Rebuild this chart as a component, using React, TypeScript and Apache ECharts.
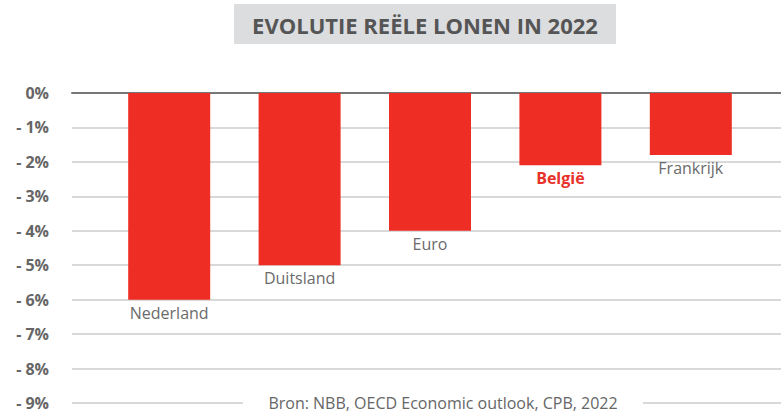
import React, { useEffect, useRef } from "react";
import * as echarts from "echarts";

const categories = ["Nederland", "Duitsland", "Euro", "België", "Frankrijk"];
const values = [-6.0, -5.0, -4.0, -2.1, -1.8];
const highlight = "België";
const yMin = -9;
const yMax = 0;
const titleText = "EVOLUTIE REËLE LONEN IN 2022";
const sourceText = "Bron: NBB, OECD Economic outlook, CPB, 2022";

const FONT = "'Open Sans', 'Noto Sans', sans-serif";

export default function App() {
  const ref = useRef<HTMLDivElement>(null);
  useEffect(() => {
    if (!ref.current) return;
    const chart = echarts.init(ref.current, null, { renderer: "svg" });
    const top = 93;
    const height = 310;
    chart.setOption({
      animation: false,
      backgroundColor: "#ffffff",
      grid: [
        { left: 72, right: 0, top, height },
        { left: 104, right: 25, top, height },
      ],
      xAxis: [
        {
          gridIndex: 0,
          type: "category",
          data: [""],
          position: "top",
          axisLine: { show: true, lineStyle: { color: "#777777", width: 2 } },
          axisTick: { show: false },
          axisLabel: { show: false },
        },
        {
          gridIndex: 1,
          type: "category",
          data: categories,
          show: false,
        },
      ],
      yAxis: [
        {
          gridIndex: 0,
          type: "value",
          min: yMin,
          max: yMax,
          interval: 1,
          axisLine: { show: false },
          axisTick: { show: false },
          splitLine: { show: true, lineStyle: { color: "#d9d9d9", width: 2 } },
          axisLabel: {
            margin: 23,
            color: "#666666",
            fontFamily: FONT,
            fontWeight: "bold",
            fontSize: 16,
            lineHeight: 16,
            formatter: (v: number) => (v === 0 ? "0%" : "- " + Math.abs(v) + "%"),
          },
        },
        {
          gridIndex: 1,
          type: "value",
          min: yMin,
          max: yMax,
          interval: 1,
          show: false,
          splitLine: { show: false },
        },
      ],
      series: [
        {
          type: "bar",
          xAxisIndex: 1,
          yAxisIndex: 1,
          barWidth: 82,
          data: values.map((v, i) => ({
            value: v,
            label: {
              show: true,
              position: "bottom",
              distance: 5,
              formatter: categories[i],
              fontFamily: FONT,
              fontSize: 16,
              color: categories[i] === highlight ? "#e8312a" : "#6b6b6b",
              fontWeight: categories[i] === highlight ? "bold" : "normal",
            },
          })),
          itemStyle: { color: "#ee2e24" },
        },
      ],
      graphic: [
        {
          type: "rect",
          shape: { x: 234, y: 4, width: 382, height: 40 },
          style: { fill: "#dcdddf" },
          z: 10,
        },
        {
          type: "text",
          x: 425,
          y: 25,
          style: {
            text: titleText,
            fill: "#555555",
            font: "bold 22px " + FONT,
            textAlign: "center",
            textVerticalAlign: "middle",
          },
          z: 11,
        },
        {
          type: "rect",
          shape: { x: 243, y: 394, width: 400, height: 19 },
          style: { fill: "#ffffff" },
          z: 10,
        },
        {
          type: "text",
          x: 443,
          y: 403,
          style: {
            text: sourceText,
            fill: "#666666",
            font: "16px " + FONT,
            lineHeight: 16,
            textAlign: "center",
            textVerticalAlign: "middle",
          },
          z: 11,
        },
      ],
    });
    return () => chart.dispose();
  }, []);
  return (
    <div
      ref={ref}
      style={{ position: "fixed", left: 0, top: 0, width: 781, height: 413 }}
    />
  );
}
